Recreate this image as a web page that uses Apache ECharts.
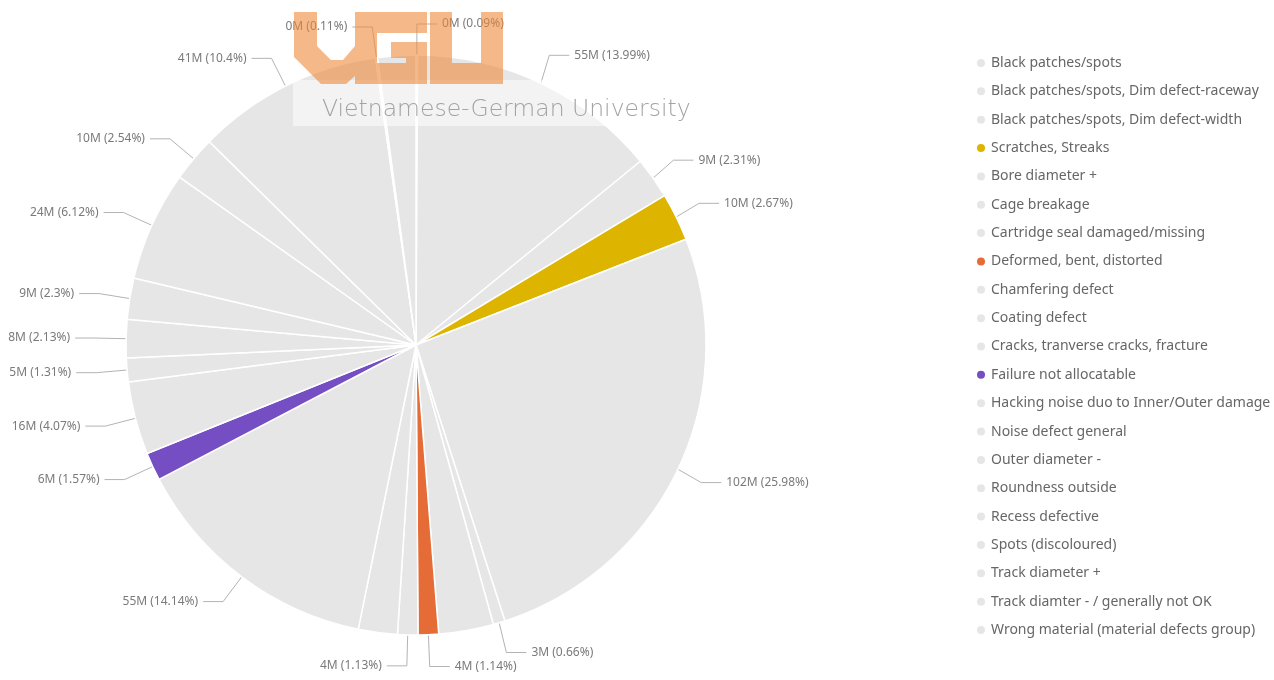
<!DOCTYPE html>
<html>
<head>
<meta charset="utf-8">
<script src="https://cdn.jsdelivr.net/npm/echarts@6/dist/echarts.min.js"></script>
<style>
html,body{margin:0;padding:0;background:#fff;}
#chart{width:1274px;height:680px;}
</style>
</head>
<body>
<div id="chart"></div>
<script>
// ---- data ----
const categories = [
  'Black patches/spots',
  'Black patches/spots, Dim defect-raceway',
  'Black patches/spots, Dim defect-width',
  'Scratches, Streaks',
  'Bore diameter +',
  'Cage breakage',
  'Cartridge seal damaged/missing',
  'Deformed, bent, distorted',
  'Chamfering defect',
  'Coating defect',
  'Cracks, tranverse cracks, fracture',
  'Failure not allocatable',
  'Hacking noise duo to Inner/Outer damage',
  'Noise defect general',
  'Outer diameter -',
  'Roundness outside',
  'Recess defective',
  'Spots (discoloured)',
  'Track diameter +',
  'Track diamter - / generally not OK',
  'Wrong material (material defects group)'
];
// values in millions
const valuesM = [
  0.352, 54.771, 9.044, 10.453, 101.712, 2.584, 11.941, 4.463, 4.424, 8.496,
  55.358, 6.147, 15.934, 5.129, 8.339, 9.005, 23.960, 9.944, 40.716, 0.431, 8.300
];
// slices whose data label is not shown in the reference
const unlabeled = [
  'Cartridge seal damaged/missing',
  'Coating defect',
  'Wrong material (material defects group)'
];

// ---- styling ----
const baseColor = '#E6E6E6';
const highlight = {
  'Scratches, Streaks': '#DDB400',
  'Deformed, bent, distorted': '#E66C37',
  'Failure not allocatable': '#744EC2'
};
const FONT = '"Noto Sans", "Open Sans", sans-serif';

const seriesData = categories.map((name, i) => {
  const item = {
    name: name,
    value: valuesM[i],
    itemStyle: { color: highlight[name] || baseColor }
  };
  if (unlabeled.indexOf(name) >= 0) {
    item.label = { show: false };
    item.labelLine = { show: false };
  }
  return item;
});

// watermark logo pieces (non-overlapping so the translucent fill stays even)
const logoFill = 'rgba(238,138,58,0.6)';
const logoPolys = [
  [[294,12],[317,12],[317,46],[331,60],[343,60],[355,46],[355,76],[346,84],[321,84],[294,57]],
  [[355,12],[377,12],[377,84],[355,84]],
  [[377,12],[427,12],[427,33],[377,33]],
  [[391,42],[427,42],[427,58],[391,58]],
  [[406,58],[427,58],[427,84],[406,84]],
  [[377,63],[406,63],[406,84],[377,84]],
  [[430,12],[452,12],[452,84],[430,84]],
  [[481,12],[503,12],[503,84],[481,84]],
  [[452,63],[481,63],[481,84],[452,84]]
];
const logoGraphics = logoPolys.map(pts => ({
  type: 'polygon',
  z: 101,
  shape: { points: pts },
  style: { fill: logoFill }
}));

const chart = echarts.init(document.getElementById('chart'), null, { renderer: 'canvas' });
chart.setOption({
  animation: false,
  backgroundColor: '#ffffff',
  textStyle: { fontFamily: FONT },
  legend: {
    data: categories,
    orient: 'vertical',
    left: 970,
    top: 49,
    icon: 'circle',
    itemWidth: 10,
    itemHeight: 10,
    itemGap: 10.35,
    selectedMode: false,
    textStyle: { color: '#666666', fontSize: 14, fontFamily: FONT, lineHeight: 18 }
  },
  series: [{
    type: 'pie',
    center: [416, 345],
    radius: [0, 290],
    startAngle: 90,
    clockwise: true,
    avoidLabelOverlap: true,
    itemStyle: { borderColor: '#ffffff', borderWidth: 1.5 },
    emphasis: { disabled: true },
    label: {
      show: true,
      position: 'outside',
      overflow: 'none',
      color: '#7A7A7A',
      fontSize: 12,
      fontFamily: FONT,
      formatter: p => Math.round(p.value) + 'M (' + parseFloat(p.percent.toFixed(2)) + '%)'
    },
    labelLine: {
      show: true,
      length: 31,
      length2: 20,
      lineStyle: { color: '#B3B3B3', width: 1 }
    },
    data: seriesData
  }],
  graphic: [
    {
      type: 'rect',
      z: 100,
      shape: { x: 293, y: 80, width: 406, height: 46 },
      style: { fill: 'rgba(255,255,255,0.5)' }
    }
  ].concat(logoGraphics).concat([
    {
      type: 'text',
      z: 102,
      x: 322,
      y: 98,
      style: {
        text: 'Vietnamese-German University',
        fill: '#A3A3A3',
        font: '200 23.5px "DejaVu Sans", ' + FONT
      }
    }
  ])
});
</script>
</body>
</html>
